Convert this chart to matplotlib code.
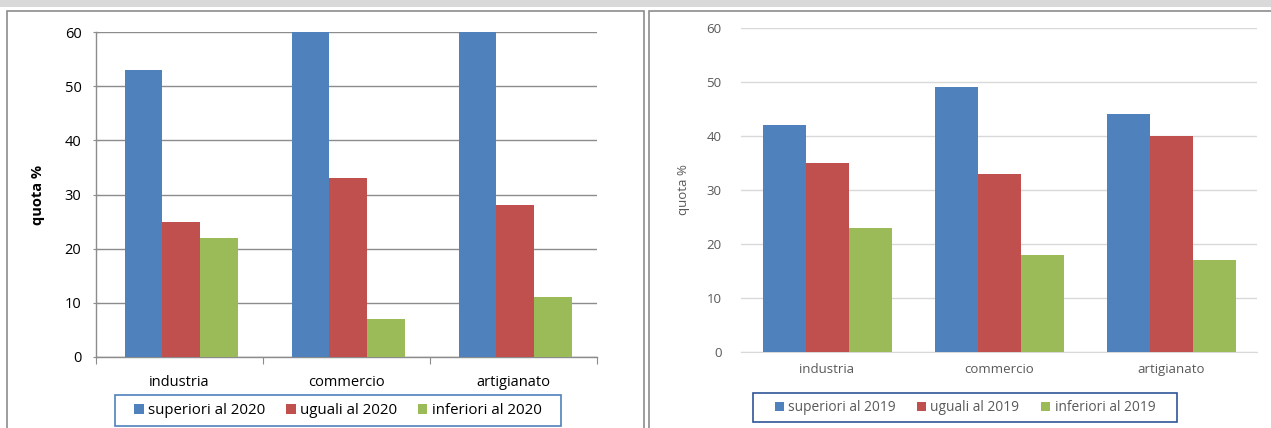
import matplotlib
matplotlib.use("Agg")
import matplotlib.pyplot as plt
from matplotlib.patches import Rectangle
import numpy as np

plt.rcParams["font.family"] = ["Open Sans", "DejaVu Sans"]

# ── data ────────────────────────────────────────────────────────────────────
categories = ["industria", "commercio", "artigianato"]
labels_2020 = ["superiori al 2020", "uguali al 2020", "inferiori al 2020"]
labels_2019 = ["superiori al 2019", "uguali al 2019", "inferiori al 2019"]
values_2020 = [
    [53, 60, 60],   # superiori
    [25, 33, 28],   # uguali
    [22, 7, 11],    # inferiori
]
values_2019 = [
    [42, 49, 44],
    [35, 33, 40],
    [23, 18, 17],
]
yticks = [0, 10, 20, 30, 40, 50, 60]
colors = ["#4f81bd", "#c0504d", "#9bbb59"]

W, H = 1271, 428
fig = plt.figure(figsize=(W / 100, H / 100), dpi=100)
fig.patch.set_facecolor("white")


def px(x0, y0, x1, y1):
    """pixel box (top-left origin) -> figure fraction rect"""
    return [x0 / W, 1 - y1 / H, (x1 - x0) / W, (y1 - y0) / H]


def frame_legend(leg, padx, pady, color):
    """Excel-like legend box: wider horizontal than vertical padding"""
    fig.canvas.draw()
    bb = leg.get_window_extent()
    fig.patches.append(Rectangle(((bb.x0 - padx) / W, (bb.y0 - pady) / H),
                                 (bb.width + 2 * padx) / W, (bb.height + 2 * pady) / H,
                                 transform=fig.transFigure, facecolor="none",
                                 edgecolor=color, linewidth=1.2))


# background strip and panel frames
fig.patches.append(Rectangle((0, 1 - 7 / H), 1, 7 / H, transform=fig.transFigure,
                             facecolor="#d9d9d9", edgecolor="none"))
for x0, x1 in [(7, 644), (649, 1275)]:
    fig.patches.append(Rectangle((x0 / W, -0.02), (x1 - x0) / W, 1 - 10.5 / H + 0.02,
                                 transform=fig.transFigure, facecolor="none",
                                 edgecolor="#8c8c8c", linewidth=1.2))

x = np.arange(len(categories))

# ── left chart ──────────────────────────────────────────────────────────────
ax = fig.add_axes(px(96, 32, 597, 357))
bw = 0.225
for i, (vals, lab) in enumerate(zip(values_2020, labels_2020)):
    ax.bar(x + (i - 1) * bw + 0.01, vals, bw, color=colors[i], label=lab, zorder=3)
ax.set_xlim(-0.5, 2.5)
ax.set_ylim(0, 60)
ax.set_yticks(yticks)
ax.yaxis.grid(True, color="#8c8c8c", linewidth=1.0, zorder=0)
for s in ["top", "right"]:
    ax.spines[s].set_visible(False)
for s in ["left", "bottom"]:
    ax.spines[s].set_color("#8c8c8c")
    ax.spines[s].set_linewidth(1.0)
ax.set_xticks([-0.5, 0.5, 1.5, 2.5])
ax.set_xticklabels([])
ax.set_xticks(x, minor=True)
ax.set_xticklabels(categories, minor=True, fontsize=10.5, color="#000000")
ax.tick_params(axis="x", which="major", length=5, color="#8c8c8c", direction="out")
ax.tick_params(axis="x", which="minor", length=0, pad=13)
ax.tick_params(axis="y", length=5, color="#8c8c8c", direction="inout",
               labelsize=10.5, labelcolor="#000000", pad=8)
ax.set_ylabel("quota %", fontsize=10.5, fontweight="bold", labelpad=14)
leg = ax.legend(loc="upper center", bbox_to_anchor=(0.483, -0.142), ncol=3,
                frameon=False, fontsize=10.8, handlelength=0.65,
                handleheight=0.65, handletextpad=0.3, columnspacing=1.35,
                borderpad=0.0, borderaxespad=0.0)

# ── right chart ─────────────────────────────────────────────────────────────
ax2 = fig.add_axes(px(741, 28, 1257, 352))
bw2 = 0.25
for i, (vals, lab) in enumerate(zip(values_2019, labels_2019)):
    ax2.bar(x + (i - 1) * bw2, vals, bw2, color=colors[i], label=lab, zorder=3)
ax2.set_xlim(-0.5, 2.5)
ax2.set_ylim(0, 60)
ax2.set_yticks(yticks)
ax2.yaxis.grid(True, color="#d9d9d9", linewidth=1.0, zorder=0)
for s in ["top", "right", "left"]:
    ax2.spines[s].set_visible(False)
ax2.spines["bottom"].set_color("#d9d9d9")
ax2.set_xticks(x)
ax2.set_xticklabels(categories, fontsize=9.5, color="#595959")
ax2.tick_params(axis="x", length=0, pad=8)
ax2.tick_params(axis="y", length=0, labelsize=9.5, labelcolor="#595959", pad=14)
ax2.set_ylabel("quota %", fontsize=9.5, color="#595959", labelpad=12)
leg2 = ax2.legend(loc="upper center", bbox_to_anchor=(0.434, -0.149), ncol=3,
                  frameon=False, fontsize=9.9, handlelength=0.65,
                  handleheight=0.65, handletextpad=0.3, columnspacing=1.6,
                  borderpad=0.0, borderaxespad=0.0, labelcolor="#595959")

frame_legend(leg, 19, 8, "#4f81bd")
frame_legend(leg2, 22, 7, "#2f5597")

fig.savefig("out.png", dpi=100)
